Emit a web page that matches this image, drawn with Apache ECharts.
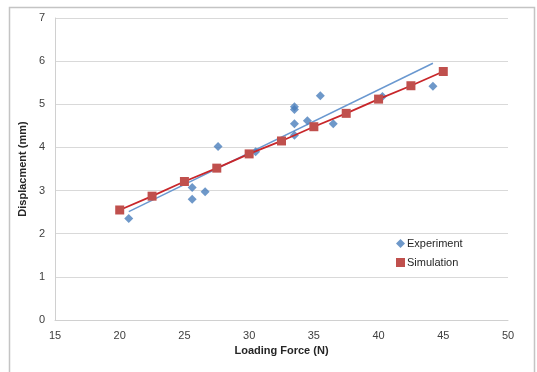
<!DOCTYPE html>
<html><head><meta charset="utf-8">
<script src="https://cdn.jsdelivr.net/npm/echarts@6/dist/echarts.min.js"></script>
<style>html,body{margin:0;padding:0;background:#fff}#c{width:537px;height:372px}</style>
</head><body><div id="c"></div>
<script>
const expForce = [20.7,25.6,25.6,26.6,27.6,30.5,33.5,33.5,33.5,33.5,34.5,35.5,36.5,40.3,44.2];
const expDisp  = [2.35,3.07,2.80,2.97,4.02,3.90,4.88,4.94,4.55,4.28,4.62,5.20,4.55,5.18,5.42];
const simForce = [20,22.5,25,27.5,30,32.5,35,37.5,40,42.5,45];
const simDisp  = [2.55,2.87,3.21,3.52,3.85,4.15,4.48,4.79,5.12,5.43,5.76];
const xTicks = [15,20,25,30,35,40,45,50];
const yTicks = [0,1,2,3,4,5,6,7];

// linear trendline of experiment data (least squares)
const n = expForce.length;
const mx = expForce.reduce((a,b)=>a+b,0)/n, my = expDisp.reduce((a,b)=>a+b,0)/n;
let sxy=0,sxx=0;
for(let i=0;i<n;i++){sxy+=(expForce[i]-mx)*(expDisp[i]-my);sxx+=(expForce[i]-mx)**2;}
const slope=sxy/sxx, icpt=my-slope*mx;
const xmin=Math.min(...expForce), xmax=Math.max(...expForce);
const trend=[[xmin,icpt+slope*xmin],[xmax,icpt+slope*xmax]];

const chart = echarts.init(document.getElementById('c'));
const font = 'Liberation Sans, Arial, sans-serif';
chart.setOption({
  animation:false,
  graphic:[{type:'rect',shape:{x:9.5,y:7.5,width:525,height:370},style:{fill:'none',stroke:'#c4c4c4',lineWidth:1.5}}],
  grid:{left:55,top:18,right:29,bottom:52},
  xAxis:{type:'value',min:xTicks[0],max:xTicks[xTicks.length-1],interval:5,
    name:'Loading Force (N)',nameLocation:'middle',nameGap:24,
    nameTextStyle:{fontFamily:font,fontSize:11,fontWeight:'bold',color:'#262626'},
    axisLine:{show:true,lineStyle:{color:'#d0d0d0'}},axisTick:{show:false},
    axisLabel:{fontFamily:font,fontSize:11,color:'#404040',margin:10},
    splitLine:{show:false}},
  yAxis:{type:'value',min:yTicks[0],max:yTicks[yTicks.length-1],interval:1,
    name:'Displacment (mm)',nameLocation:'middle',nameGap:22,
    nameTextStyle:{fontFamily:font,fontSize:11,fontWeight:'bold',color:'#262626'},
    axisLine:{show:true,lineStyle:{color:'#d0d0d0'}},axisTick:{show:false},
    axisLabel:{fontFamily:font,fontSize:11,color:'#404040',margin:10},
    splitLine:{show:true,lineStyle:{color:'#d9d9d9'}}},
  legend:{left:391,top:233,orient:'vertical',itemGap:8,itemWidth:9,itemHeight:9,
    textStyle:{fontFamily:font,fontSize:11,color:'#262626',padding:[0,0,0,-3]},
    data:[{name:'Experiment',icon:'diamond'},{name:'Simulation',icon:'rect'}]},
  series:[
    {name:'Experiment',type:'scatter',symbol:'diamond',symbolSize:9,
     itemStyle:{color:'#4a7ebb'},data:expForce.map((x,i)=>[x,expDisp[i]]),z:3},
    {name:'trend',type:'line',data:trend,symbol:'none',lineStyle:{color:'#6a98d0',width:1.5},z:2,silent:true},
    {name:'Simulation',type:'line',symbol:'rect',symbolSize:9,
     itemStyle:{color:'#c0504d'},lineStyle:{color:'#c8262a',width:1.8},
     data:simForce.map((x,i)=>[x,simDisp[i]]),z:4}
  ]
});
</script></body></html>
